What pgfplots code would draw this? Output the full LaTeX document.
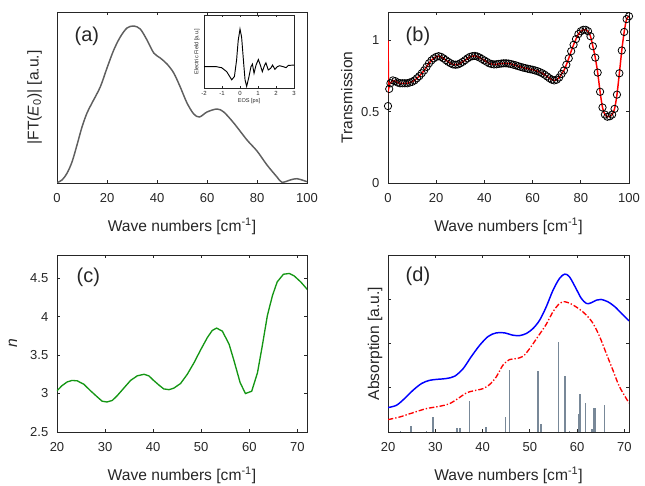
\documentclass[border=0pt]{standalone}
\usepackage{fontspec}
\setmainfont{Liberation Sans}
\usepackage{pgfplots}
\usepackage{pgfplotstable}
\pgfplotsset{compat=1.18}

\definecolor{axc}{RGB}{38,38,38}
\definecolor{ftgray}{RGB}{95,95,95}
\definecolor{ngreen}{RGB}{20,150,20}
\definecolor{barcol}{RGB}{120,136,152}

\pgfplotsset{
  mstyle/.style={
    scale only axis, anchor=south west,
    axis line style={axc, line width=0.6pt},
    tick style={axc, line width=0.6pt},
    major tick length=2.5pt, tick align=inside,
    /pgf/number format/assume math mode=true,
    every tick label/.append style={font=\fontsize{9.75}{11}\selectfont, text=axc},
    xticklabel style={anchor=base, yshift=-14.5pt},
    yticklabel style={anchor=east, xshift=-3pt},
    label style={font=\fontsize{11.7}{13}\selectfont, text=axc},
    xlabel style={at={(axis description cs:0.5,0)}, anchor=base, yshift=-36.5pt},
  },
}
\tikzset{panel/.style={font=\fontsize{15}{18}\selectfont, text=axc, anchor=west}}

% transmission data (circles)
\pgfplotstableread{
x y
0 0.54
0.5 0.66
1 0.70
2 0.72
3 0.715
4 0.705
5 0.70
6 0.70
7 0.70
8 0.70
9 0.705
10 0.71
11 0.72
12 0.735
13 0.75
14 0.77
15 0.79
16 0.815
17 0.84
18 0.86
19 0.875
20 0.885
21 0.89
22 0.885
23 0.875
24 0.862
25 0.85
26 0.84
27 0.832
28 0.83
29 0.832
30 0.84
31 0.85
32 0.862
33 0.875
34 0.885
35 0.89
36 0.892
37 0.888
38 0.88
39 0.87
40 0.86
41 0.85
42 0.84
43 0.835
44 0.832
45 0.833
46 0.836
47 0.838
48 0.84
49 0.84
50 0.838
51 0.835
52 0.83
53 0.826
54 0.82
55 0.815
56 0.81
57 0.806
58 0.802
59 0.798
60 0.795
61 0.79
62 0.785
63 0.778
64 0.77
65 0.76
66 0.748
67 0.735
68 0.725
69 0.72
70 0.725
71 0.74
72 0.765
73 0.79
74 0.83
75 0.875
76 0.925
77 0.97
78 1.01
79 1.045
80 1.065
81 1.075
82 1.075
83 1.065
84 1.03
85 0.96
86 0.88
87 0.775
88 0.64
89 0.53
90 0.48
91 0.465
92 0.468
93 0.48
94 0.52
95 0.62
96 0.77
97 0.93
98 1.06
99 1.15
100 1.17
}\trans

\begin{document}
\begin{tikzpicture}
\path[use as bounding box] (0,0) rectangle (483.75pt,363.75pt);

% (a) spectrum of the reference pulse
\begin{axis}[mstyle, at={(42.75pt,226.5pt)}, width=187.5pt, height=128.25pt,
  xmin=0, xmax=100, ymin=0, ymax=171,
  xtick={0,20,...,100}, ytick=\empty,
  xlabel={Wave numbers [cm\textsuperscript{-1}]},
  ylabel={|FT(\textit{E}\textsubscript{0})| [a.u.]},
  ylabel style={at={(axis description cs:-0.09,0.5)}, anchor=center}]
\addplot[ftgray, line width=1.1pt, smooth] coordinates {
(0,0.3)(2,3)(4,9.7)(6,21)(8,38)(10,56)(12,70)(14,80)(17.3,96)(20,115)
(22.7,133)(25.3,146)(28,155)(30.7,157)(33.3,154)(36,143)(38.7,130)(41.3,125)
(44,119)(46.7,110)(49.3,96)(52,80)(54.7,69)(57,66)(60,71)(64,74)(66.7,71)
(70.7,60)(76,43)(80,32)(84,18)(88,6)(90,0.7)(93.3,3)(96,4.3)(100,1.3)};
\node[panel] at (axis description cs:0.052,0.86) {(a)};
\end{axis}

% inset: time-domain field
\begin{axis}[mstyle, at={(153pt,297.75pt)}, width=67.5pt, height=54.75pt,
  axis background/.style={fill=white},
  major tick length=1.2pt,
  xmin=-2, xmax=3, ymin=-65, ymax=158,
  xtick={-2,...,3}, ytick=\empty,
  every tick label/.append style={font=\fontsize{4.5}{5}\selectfont},
  xticklabel style={yshift=9.2pt},
  label style={font=\fontsize{4.2}{5}\selectfont},
  xlabel={EOS [ps]}, xlabel style={yshift=25.5pt},
  ylabel={Electric Field [a.u.]},
  ylabel style={at={(axis description cs:-0.08,0.5)}, anchor=center}]
\addplot[black, line width=0.7pt] coordinates {
(-2,0)(-1.3,0)(-1.02,-3)(-0.74,-15)(-0.46,-40)(-0.31,-30)(-0.19,20)(-0.1,80)
(0,115)(0.09,90)(0.19,20)(0.28,-40)(0.37,-60)(0.5,-30)(0.61,0)(0.69,8)
(0.78,-20)(0.89,5)(1.02,22)(1.13,5)(1.24,-15)(1.37,5)(1.44,12)(1.57,-10)
(1.7,-5)(1.81,5)(1.94,-8)(2.07,0)(2.2,3)(2.41,0)(2.56,-3)(2.69,4)(3,5)};
\end{axis}

% (b) transmission
\begin{axis}[mstyle, at={(291pt,226.5pt)}, width=180.75pt, height=128.25pt,
  xmin=0, xmax=100, ymin=0, ymax=1.2,
  xtick={0,20,...,100}, ytick={0,0.5,1},
  xlabel={Wave numbers [cm\textsuperscript{-1}]},
  ylabel={Transmission},
  ylabel style={at={(axis description cs:-0.171,0.5)}, anchor=center}]
\addplot[only marks, mark=o, mark size=2.75pt, mark options={black, line width=0.6pt}] table {\trans};
\addplot[red, line width=1.1pt] coordinates {(0,1.0)(0.25,0.66)(0.8,0.70)(1,0.70)};
\addplot[red, line width=1.1pt, smooth, restrict x to domain=1:100] table {\trans};
\node[panel] at (axis description cs:0.054,0.86) {(b)};
\end{axis}

% (c) refractive index
\begin{axis}[mstyle, at={(42.75pt,39.75pt)}, width=187.5pt, height=132.75pt,
  xmin=20, xmax=72, ymin=2.5, ymax=4.8,
  xtick={20,30,...,70}, ytick={2.5,3,...,4.5},
  yticklabel style={/pgf/number format/fixed},
  xlabel={Wave numbers [cm\textsuperscript{-1}]},
  ylabel={\textit{n}},
  ylabel style={at={(axis description cs:-0.176,0.5)}, anchor=center}]
\addplot[ngreen, line width=1pt] coordinates {
(20,3.035)(21,3.10)(22.1,3.15)(23.1,3.17)(24.2,3.165)(25.6,3.12)(26.9,3.04)
(28.3,2.96)(29.4,2.90)(30.4,2.89)(31.5,2.91)(32.5,2.97)(33.9,3.07)(35.3,3.17)
(36.7,3.23)(38.1,3.25)(39.1,3.23)(40.1,3.17)(41.2,3.11)(42.2,3.06)(43.3,3.05)
(44.3,3.07)(45.7,3.13)(47.1,3.25)(48.5,3.40)(49.9,3.57)(51.3,3.73)(52.3,3.82)
(53.2,3.85)(54.4,3.81)(55.8,3.64)(56.8,3.43)(58.1,3.14)(59.2,3.0)(60.5,3.03)
(61.7,3.27)(62.7,3.62)(63.75,4.01)(64.8,4.27)(65.8,4.45)(67.1,4.55)(68.3,4.56)
(69.3,4.53)(70.7,4.45)(72.1,4.35)};
\node[panel] at (axis description cs:0.06,0.876) {(c)};
\end{axis}

% (d) absorption
\begin{axis}[mstyle, at={(291pt,39.75pt)}, width=180.75pt, height=132.75pt,
  xmin=20, xmax=71, ymin=0, ymax=1,
  xtick={20,30,...,70}, ytick={0.25,0.5,0.75}, yticklabels={},
  xlabel={Wave numbers [cm\textsuperscript{-1}]},
  ylabel={Absorption [a.u.]},
  ylabel style={at={(axis description cs:-0.054,0.5)}, anchor=center}]
\addplot[ycomb, barcol, line width=1.1pt] coordinates {
(22.6,0.006)(24.9,0.034)(28.1,0.006)(29.5,0.085)(34.6,0.023)(35.2,0.023)
(37.3,0.174)(40.7,0.03)(44.9,0.085)(45.7,0.349)(51.7,0.343)(52.4,0.047)
(56.1,0.509)(57.5,0.317)(58.4,0.005)(60.3,0.104)(60.6,0.213)(61.8,0.164)
(63.2,0.019)(63.6,0.136)(63.8,0.136)(65.8,0.151)};
\addplot[blue, line width=1.1pt, smooth] coordinates {
(20,0.138)(21.8,0.151)(23.5,0.189)(25.3,0.236)(27.1,0.274)(28.8,0.292)
(30.6,0.298)(32.3,0.302)(34.1,0.315)(35.9,0.358)(37.6,0.425)(39.4,0.49)
(41.2,0.54)(42.9,0.56)(44.7,0.56)(46.4,0.547)(47.9,0.545)(49.3,0.557)
(50.7,0.585)(52.1,0.632)(53.5,0.708)(54.9,0.80)(56.3,0.868)(57.4,0.892)
(58.4,0.877)(59.8,0.81)(60.9,0.755)(62.0,0.726)(63.0,0.73)(64.1,0.745)
(65.1,0.749)(66.5,0.736)(68.0,0.708)(69.4,0.67)(71,0.628)};
\addplot[red, line width=1pt, smooth, dash pattern=on 4pt off 1.5pt on 1pt off 1.5pt] coordinates {
(20,0.07)(22.5,0.085)(25.3,0.109)(28.1,0.132)(30.9,0.145)(33.0,0.16)
(34.8,0.189)(36.6,0.221)(38.0,0.232)(40.1,0.245)(41.5,0.268)(42.9,0.311)
(44.3,0.377)(45.7,0.409)(47.2,0.415)(48.6,0.428)(50.0,0.472)(51.7,0.538)
(53.5,0.609)(54.9,0.679)(56.3,0.726)(57.4,0.736)(58.8,0.723)(60.6,0.692)
(62.0,0.66)(63.4,0.613)(64.8,0.538)(66.2,0.443)(67.6,0.349)(69.0,0.255)
(71,0.164)};
\node[panel] at (axis description cs:0.054,0.88) {(d)};
\end{axis}
\end{tikzpicture}
\end{document}
